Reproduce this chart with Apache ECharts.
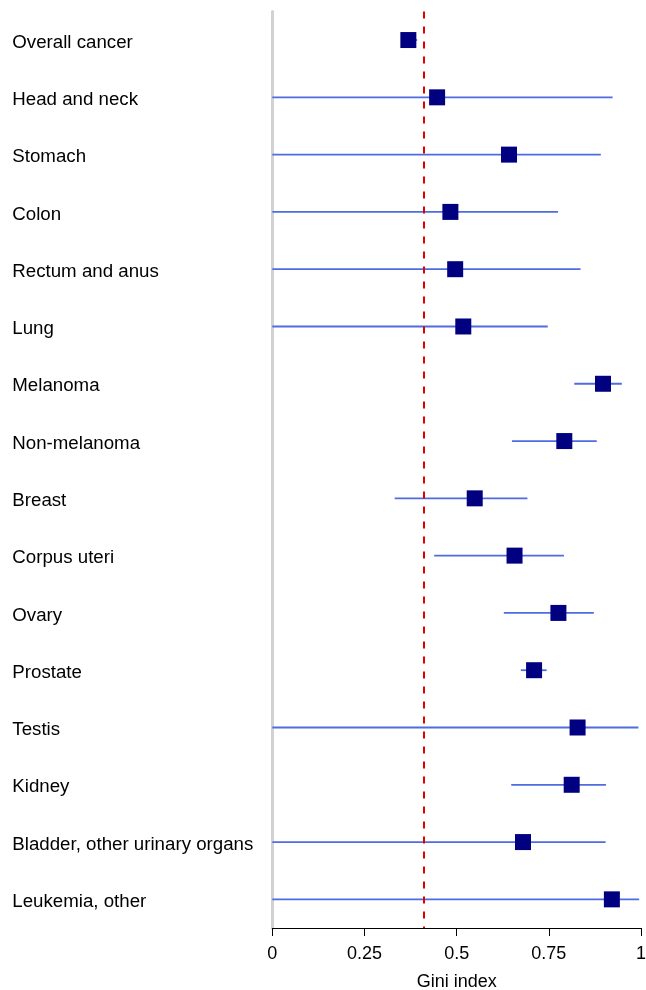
<!DOCTYPE html>
<html>
<head>
<meta charset="utf-8">
<title>Gini index by cancer site</title>
<script src="https://cdn.jsdelivr.net/npm/echarts@6/dist/echarts.min.js"></script>
<style>
  html, body { margin: 0; padding: 0; background: #fff; }
  #chart { width: 646px; height: 990px; }
</style>
</head>
<body>
<div id="chart"></div>
<script>
// Cancer sites, top to bottom
const categories = [
  'Overall cancer', 'Head and neck', 'Stomach', 'Colon', 'Rectum and anus',
  'Lung', 'Melanoma', 'Non-melanoma', 'Breast', 'Corpus uteri', 'Ovary',
  'Prostate', 'Testis', 'Kidney', 'Bladder, other urinary organs', 'Leukemia, other'
];
// Gini index point estimates
const gini = [0.369, 0.447, 0.642, 0.483, 0.496, 0.518, 0.897, 0.792, 0.549, 0.657, 0.776, 0.710, 0.828, 0.812, 0.680, 0.921];
// Lower and upper interval bounds
const ciLow = [0.350, 0.000, 0.000, 0.000, 0.000, 0.000, 0.819, 0.650, 0.332, 0.439, 0.628, 0.674, 0.000, 0.648, 0.000, 0.000];
const ciHigh = [0.393, 0.923, 0.891, 0.775, 0.836, 0.747, 0.948, 0.880, 0.692, 0.791, 0.872, 0.744, 0.993, 0.905, 0.904, 0.995];
// Reference value shown as dashed vertical line
const referenceGini = 0.41;
const xTicks = [0, 0.25, 0.5, 0.75, 1];

const FONT = "'Liberation Sans', Arial, Helvetica, sans-serif";

const chart = echarts.init(document.getElementById('chart'), null, { renderer: 'canvas' });

const intervalData = categories.map((c, i) => [ciLow[i], ciHigh[i], i]);
const pointData = categories.map((c, i) => [gini[i], i]);

chart.setOption({
  animation: false,
  backgroundColor: '#ffffff',
  grid: {
    left: 272.3, right: 5, top: 11.4, bottom: 62,
    containLabel: false,
    outerBoundsMode: 'none'
  },
  xAxis: {
    type: 'value',
    min: 0,
    max: 1,
    interval: 0.25,
    name: 'Gini index',
    nameLocation: 'middle',
    nameGap: 45,
    nameTextStyle: { color: '#000', fontSize: 18, fontFamily: FONT },
    axisLine: { show: true, lineStyle: { color: '#000', width: 1 } },
    axisTick: { show: true, length: 8, lineStyle: { color: '#000', width: 1 } },
    axisLabel: {
      color: '#000', fontSize: 18, fontFamily: FONT, margin: 17,
      formatter: v => { const t = xTicks.find(x => Math.abs(x - v) < 1e-9); return t === undefined ? '' : String(t); }
    },
    splitLine: { show: false }
  },
  yAxis: {
    type: 'category',
    data: categories,
    inverse: true,
    axisLine: { show: true, lineStyle: { color: '#d2d2d2', width: 3 } },
    axisTick: { show: false },
    axisLabel: {
      color: '#000', fontSize: 18.7, fontFamily: FONT,
      align: 'left', margin: 260,
      verticalAlign: 'top',
      lineHeight: 5
    },
    splitLine: { show: false }
  },
  series: [
    {
      type: 'custom',
      name: 'interval',
      z: 2,
      data: intervalData,
      encode: { x: [0, 1], y: 2 },
      renderItem: (params, api) => {
        const idx = api.value(2);
        const p1 = api.coord([api.value(0), idx]);
        const p2 = api.coord([api.value(1), idx]);
        return {
          type: 'line',
          shape: { x1: p1[0], y1: p1[1], x2: p2[0], y2: p2[1] },
          style: { stroke: '#4f6de0', lineWidth: 1.8 }
        };
      }
    },
    {
      type: 'scatter',
      name: 'Gini',
      z: 4,
      symbol: 'rect',
      symbolSize: 16,
      itemStyle: { color: '#000080', opacity: 1 },
      data: pointData,
      markLine: {
        silent: true,
        symbol: 'none',
        z: 3,
        label: { show: false },
        lineStyle: { color: '#e00000', width: 2, type: [7, 8] },
        data: [{ xAxis: referenceGini }]
      }
    }
  ]
});
</script>
</body>
</html>
